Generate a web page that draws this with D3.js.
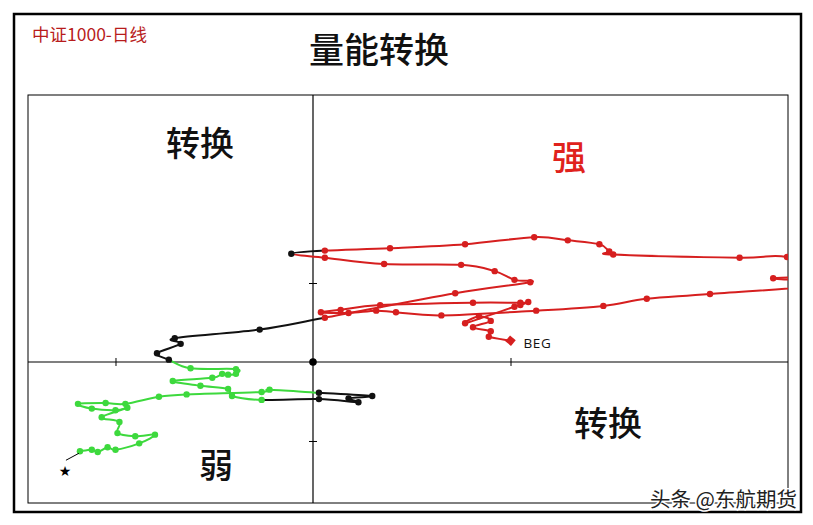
<!DOCTYPE html>
<html><head><meta charset="utf-8">
<script src="https://cdn.jsdelivr.net/npm/d3@7"></script>
<style>body{margin:0;background:#fff}svg{display:block}</style>
</head><body>
<svg id="chart" width="813" height="525"></svg>
<script>
// ---- data ----
const chartTitle = "量能转换";
const chartSubtitle = "中证1000-日线";
const watermark = "头条 @东航期货";
const startLabel = "BEG";
const quadrantNames = ["强", "转换", "弱", "转换"]; // UR, UL, LL, LR
const xTicks = [-1, 1];
const yTicks = [-1, 1];
const xValues = [1.00,0.89,0.90,0.81,0.90,0.84,0.77,1.02,1.05,1.09,1.05,0.81,0.34,0.14,0.04,0.18,0.32,0.42,0.65,1.13,
  1.47,1.69,2.01,2.67,2.33,2.72,2.40,2.16,1.52,1.50,1.45,1.29,1.12,0.77,0.39,0.06,-0.11,0.06,0.36,0.75,
  0.92,1.02,1.10,0.72,0.06,-0.27,-0.70,-0.67,-0.79,-0.73,-0.62,-0.39,-0.39,-0.43,-0.46,-0.51,-0.71,-0.57,-0.43,-0.41,
  -0.26,0.03,0.23,0.18,0.30,0.03,-0.22,-0.26,-0.64,-0.78,-0.95,-1.05,-1.19,-1.12,-1.00,-0.94,-1.07,-0.98,-0.99,-0.90,
  -0.80,-0.88,-1.00,-1.04,-1.09,-1.12,-1.18];
const yValues = [0.27,0.32,0.39,0.44,0.52,0.58,0.49,0.70,0.72,0.76,0.75,0.75,0.72,0.66,0.63,0.62,0.65,0.63,0.59,0.65,
  0.71,0.80,0.86,0.99,1.06,1.11,1.33,1.32,1.36,1.40,1.49,1.54,1.58,1.49,1.44,1.41,1.37,1.32,1.24,1.23,
  1.15,1.04,1.01,0.87,0.56,0.41,0.30,0.23,0.11,0.03,-0.08,-0.09,-0.15,-0.16,-0.15,-0.20,-0.24,-0.30,-0.34,-0.43,
  -0.48,-0.47,-0.51,-0.46,-0.43,-0.39,-0.35,-0.38,-0.41,-0.44,-0.53,-0.52,-0.53,-0.59,-0.61,-0.58,-0.70,-0.76,-0.90,-0.94,
  -0.92,-1.03,-1.11,-1.08,-1.14,-1.11,-1.13];

// ---- layout / style ----
const W = 813, H = 525;
const plot = {left: 28, top: 95, right: 788, bottom: 503};
const RED = "#d61f1f", GREEN = "#3dd93d", BLACK = "#111";
const CJK = "'Noto Sans CJK SC','Noto Sans',sans-serif";

const svg = d3.select("#chart");
svg.append("rect").attr("width", W).attr("height", H).attr("fill", "#fff");

const x = d3.scaleLinear().domain([-1.443, 2.405]).range([plot.left, plot.right]);
const y = d3.scaleLinear().domain([-1.785, 3.380]).range([plot.bottom, plot.top]);

const pts = xValues.map((v, i) => ({x: v, y: yValues[i], px: x(v), py: y(yValues[i])}));
const colorOf = p => (p.x >= 0 && p.y >= 0) ? RED : (p.x < 0 && p.y < 0) ? GREEN : BLACK;

// outer frame
svg.append("rect").attr("x", 14).attr("y", 14).attr("width", 787).attr("height", 498)
  .attr("fill", "none").attr("stroke", "#000").attr("stroke-width", 2.5);

// titles
svg.append("text").attr("x", 32).attr("y", 41).text(chartSubtitle)
  .attr("font-family", CJK).attr("font-size", 17.5).attr("fill", "#b81c1c");
svg.append("text").attr("x", 379).attr("y", 63).attr("text-anchor", "middle").text(chartTitle)
  .attr("font-family", CJK).attr("font-size", 35).attr("font-weight", 500).attr("fill", "#111");

// plot frame
svg.append("rect").attr("x", plot.left).attr("y", plot.top)
  .attr("width", plot.right - plot.left).attr("height", plot.bottom - plot.top)
  .attr("fill", "none").attr("stroke", "#000").attr("stroke-width", 1);

// axes through origin
const gx = svg.append("g").attr("transform", `translate(0,${y(0)})`)
  .call(d3.axisBottom(x).tickValues(xTicks).tickSize(4).tickFormat(""));
gx.select(".domain").remove();
gx.selectAll(".tick line").attr("y1", -4).attr("stroke", "#000");
svg.append("line").attr("x1", plot.left).attr("x2", plot.right).attr("y1", y(0)).attr("y2", y(0))
  .attr("stroke", "#000").attr("stroke-width", 1.2);

const gy = svg.append("g").attr("transform", `translate(${x(0)},0)`)
  .call(d3.axisLeft(y).tickValues(yTicks).tickSize(4).tickFormat(""));
gy.select(".domain").remove();
gy.selectAll(".tick line").attr("x1", 4).attr("stroke", "#000");
svg.append("line").attr("y1", plot.top).attr("y2", plot.bottom).attr("x1", x(0)).attr("x2", x(0))
  .attr("stroke", "#000").attr("stroke-width", 1.2);

// quadrant labels
const qpos = [[569, 170, "#e0221c"], [200, 156, "#111"], [216, 478, "#111"], [608, 436, "#111"]];
quadrantNames.forEach((t, i) => {
  svg.append("text").attr("x", qpos[i][0]).attr("y", qpos[i][1]).attr("text-anchor", "middle")
    .text(t).attr("font-family", CJK).attr("font-size", 34).attr("font-weight", 500).attr("fill", qpos[i][2]);
});

// clip
svg.append("clipPath").attr("id", "clip").append("rect")
  .attr("x", plot.left).attr("y", plot.top).attr("width", plot.right - plot.left).attr("height", plot.bottom - plot.top);
const g = svg.append("g").attr("clip-path", "url(#clip)");

// smoothed segments (coloured by the point they lead into)
const n = pts.length;
const segPath = i => {
  const p0 = pts[Math.max(i - 1, 0)], p1 = pts[i], p2 = pts[i + 1], p3 = pts[Math.min(i + 2, n - 1)];
  const k = 1 / 6;
  const c1x = p1.px + (p2.px - p0.px) * k, c1y = p1.py + (p2.py - p0.py) * k;
  const c2x = p2.px - (p3.px - p1.px) * k, c2y = p2.py - (p3.py - p1.py) * k;
  return `M${p1.px},${p1.py}C${c1x},${c1y} ${c2x},${c2y} ${p2.px},${p2.py}`;
};
g.selectAll("path.seg").data(d3.range(n - 1)).join("path").attr("class", "seg")
  .attr("d", segPath).attr("fill", "none")
  .attr("stroke", i => colorOf(pts[i + 1])).attr("stroke-width", 2).attr("stroke-linecap", "round");

// points
g.selectAll("circle.pt").data(pts.slice(1)).join("circle").attr("class", "pt")
  .attr("cx", d => d.px).attr("cy", d => d.py).attr("r", 3.2)
  .attr("fill", d => colorOf(d));

// origin marker
svg.append("circle").attr("cx", x(0)).attr("cy", y(0)).attr("r", 3.8).attr("fill", "#000");

// start marker (diamond) + label
const pS = pts[0];
svg.append("path").attr("d", d3.symbol(d3.symbolSquare, 55)())
  .attr("transform", `translate(${pS.px},${pS.py}) rotate(40)`).attr("fill", RED);
svg.append("text").attr("x", pS.px + 13).attr("y", pS.py + 7).text(startLabel)
  .attr("font-family", "'Open Sans',sans-serif").attr("font-size", 13.5).attr("letter-spacing", 0.6).attr("fill", "#111");

// end marker (star with leader line)
const pe = pts[n - 1];
svg.append("line").attr("x1", pe.px - 1).attr("y1", pe.py + 2).attr("x2", pe.px - 14).attr("y2", pe.py + 9)
  .attr("stroke", "#000").attr("stroke-width", 1);
svg.append("text").attr("x", pe.px - 15).attr("y", pe.py + 25).attr("text-anchor", "middle").text("★")
  .attr("font-family", "'DejaVu Sans',sans-serif").attr("font-size", 14).attr("fill", "#000");

// watermark
svg.append("text").attr("x", 650).attr("y", 507).text(watermark)
  .attr("font-family", CJK).attr("font-size", 20.5).attr("fill", "#222")
  .attr("stroke", "#fff").attr("stroke-width", 3).attr("paint-order", "stroke");
</script>
</body></html>
